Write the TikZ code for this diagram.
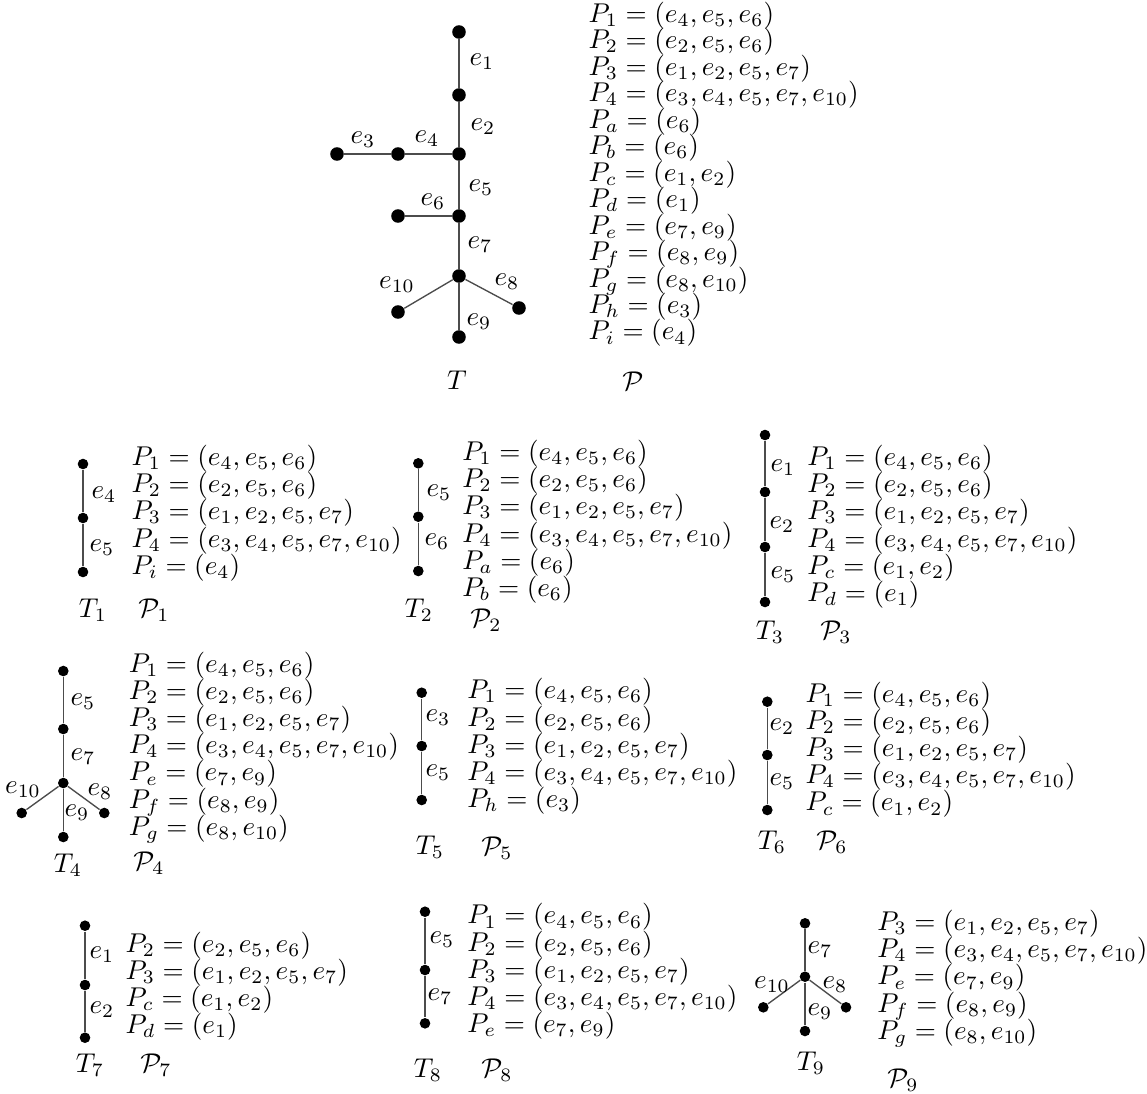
\documentclass[tikz,border=0pt]{standalone}
\tikzset{
  bigdot/.style={circle,fill=black,inner sep=0pt,minimum size=5pt},
  smdot/.style={circle,fill=black,inner sep=0pt,minimum size=3.9pt},
  edge/.style={draw=black!70,line width=0.5pt},
  lab/.style={inner sep=0pt},
  plisttop/.style={align=left,anchor=north west,inner sep=0pt,font=\fontsize{10pt}{9.75pt}\selectfont},
  plist/.style={align=left,anchor=north west,inner sep=0pt,font=\fontsize{10pt}{10pt}\selectfont}
}
\begin{document}
\lineskiplimit=-100pt
\lineskip=0pt
\begin{tikzpicture}[x=0.3683pt,y=-0.3683pt]
\useasboundingbox (0,0) rectangle (1147,1093);
% ---------- main tree T ----------
\node[bigdot] (t1) at (459,32) {};
\node[bigdot] (t2) at (459,95) {};
\node[bigdot] (t3) at (459,154) {};
\node[bigdot] (t4) at (459,216) {};
\node[bigdot] (t5) at (459,276) {};
\node[bigdot] (t6) at (459,337) {};
\node[bigdot] (t3a) at (398,154) {};
\node[bigdot] (t3b) at (337,154) {};
\node[bigdot] (t4a) at (398,216) {};
\node[bigdot] (t5l) at (398,312) {};
\node[bigdot] (t5r) at (519,308) {};
\draw[edge] (t1)--(t2)--(t3)--(t4)--(t5)--(t6);
\draw[edge] (t3)--(t3a)--(t3b);
\draw[edge] (t4)--(t4a);
\draw[edge] (t5)--(t5l);
\draw[edge] (t5)--(t5r);
\node[lab] (te1) at (482,62) {$e_1$};
\node[lab] (te2) at (483,127) {$e_2$};
\node[lab] (te3) at (363,140) {$e_3$};
\node[lab] (te4) at (427,139) {$e_4$};
\node[lab] (te5) at (481,188) {$e_5$};
\node[lab] (te6) at (433,202) {$e_6$};
\node[lab] (te7) at (480,245) {$e_7$};
\node[lab] (te10) at (397,285) {$e_{10}$};
\node[lab] (te8) at (507,282) {$e_8$};
\node[lab] (te9) at (479,322) {$e_9$};
\node[lab] (tT) at (457,380) {$T$};
\node[plisttop] (PT) at (588,1.4) {$P_1=(e_4,e_5,e_6)$\\$P_2=(e_2,e_5,e_6)$\\$P_3=(e_1,e_2,e_5,e_7)$\\$P_4=(e_3,e_4,e_5,e_7,e_{10})$\\$P_a=(e_6)$\\$P_b=(e_6)$\\$P_c=(e_1,e_2)$\\$P_d=(e_1)$\\$P_e=(e_7,e_9)$\\$P_f=(e_8,e_9)$\\$P_g=(e_8,e_{10})$\\$P_h=(e_3)$\\$P_i=(e_4)$};
\node[lab] (tP) at (633,381) {$\mathcal{P}$};
% ---------- T1 ----------
\node[smdot] (a1) at (83,464) {};
\node[smdot] (a2) at (83,518) {};
\node[smdot] (a3) at (83,572) {};
\draw[edge] (a1)--(a2)--(a3);
\node[lab] (ae4) at (104,495) {$e_4$};
\node[lab] (ae5) at (102,548) {$e_5$};
\node[plist] (PA) at (131,444.7) {$P_1=(e_4,e_5,e_6)$\\$P_2=(e_2,e_5,e_6)$\\$P_3=(e_1,e_2,e_5,e_7)$\\$P_4=(e_3,e_4,e_5,e_7,e_{10})$\\$P_i=(e_4)$};
\node[lab] (aT) at (93,610) {$T_1$};
\node[lab] (aP) at (154,610) {$\mathcal{P}_1$};
% ---------- T2 ----------
\node[smdot] (b1) at (418.3,463.3) {};
\node[smdot] (b2) at (418.3,516.7) {};
\node[smdot] (b3) at (418.3,571) {};
\draw[edge] (b1)--(b2)--(b3);
\node[lab] (be5) at (439,493) {$e_5$};
\node[lab] (be6) at (437,542) {$e_6$};
\node[plist] (PB) at (461.7,439.7) {$P_1=(e_4,e_5,e_6)$\\$P_2=(e_2,e_5,e_6)$\\$P_3=(e_1,e_2,e_5,e_7)$\\$P_4=(e_3,e_4,e_5,e_7,e_{10})$\\$P_a=(e_6)$\\$P_b=(e_6)$};
\node[lab] (bT) at (419,610) {$T_2$};
\node[lab] (bP) at (486,620) {$\mathcal{P}_2$};
% ---------- T3 ----------
\node[smdot] (c1) at (765,435) {};
\node[smdot] (c2) at (765,492) {};
\node[smdot] (c3) at (765,547) {};
\node[smdot] (c4) at (765,602) {};
\draw[edge] (c1)--(c2)--(c3)--(c4);
\node[lab] (ce1) at (783,468) {$e_1$};
\node[lab] (ce2) at (782,525) {$e_2$};
\node[lab] (ce5) at (783,575) {$e_5$};
\node[plist] (PC) at (806.7,444.7) {$P_1=(e_4,e_5,e_6)$\\$P_2=(e_2,e_5,e_6)$\\$P_3=(e_1,e_2,e_5,e_7)$\\$P_4=(e_3,e_4,e_5,e_7,e_{10})$\\$P_c=(e_1,e_2)$\\$P_d=(e_1)$};
\node[lab] (cT) at (770,632) {$T_3$};
\node[lab] (cP) at (836,632) {$\mathcal{P}_3$};
% ---------- T4 ----------
\node[smdot] (d1) at (63.3,671) {};
\node[smdot] (d2) at (63.3,729) {};
\node[smdot] (d3) at (63.3,783) {};
\node[smdot] (d4) at (63.3,837) {};
\node[smdot] (dl) at (21.7,813) {};
\node[smdot] (dr) at (104.3,813) {};
\draw[edge] (d1)--(d2)--(d3)--(d4);
\draw[edge] (d3)--(dl);
\draw[edge] (d3)--(dr);
\node[lab] (de5) at (83,702) {$e_5$};
\node[lab] (de7) at (83,757) {$e_7$};
\node[lab] (de10) at (23,790) {$e_{10}$};
\node[lab] (de8) at (100,792) {$e_8$};
\node[lab] (de9) at (77,813) {$e_9$};
\node[plist] (PD) at (128.3,651.4) {$P_1=(e_4,e_5,e_6)$\\$P_2=(e_2,e_5,e_6)$\\$P_3=(e_1,e_2,e_5,e_7)$\\$P_4=(e_3,e_4,e_5,e_7,e_{10})$\\$P_e=(e_7,e_9)$\\$P_f=(e_8,e_9)$\\$P_g=(e_8,e_{10})$};
\node[lab] (dT) at (68,865) {$T_4$};
\node[lab] (dP) at (149,863) {$\mathcal{P}_4$};
% ---------- T5 ----------
\node[smdot] (f1) at (421.7,692.7) {};
\node[smdot] (f2) at (421.7,746) {};
\node[smdot] (f3) at (421.7,800) {};
\draw[edge] (f1)--(f2)--(f3);
\node[lab] (fe3) at (438,718) {$e_3$};
\node[lab] (fe5) at (438,773) {$e_5$};
\node[plist] (PF) at (466.7,678) {$P_1=(e_4,e_5,e_6)$\\$P_2=(e_2,e_5,e_6)$\\$P_3=(e_1,e_2,e_5,e_7)$\\$P_4=(e_3,e_4,e_5,e_7,e_{10})$\\$P_h=(e_3)$};
\node[lab] (fT) at (430,847) {$T_5$};
\node[lab] (fP) at (497,848) {$\mathcal{P}_5$};
% ---------- T6 ----------
\node[smdot] (g1) at (767.3,701.7) {};
\node[smdot] (g2) at (767.3,755) {};
\node[smdot] (g3) at (767.3,810) {};
\draw[edge] (g1)--(g2)--(g3);
\node[lab] (ge2) at (782,727) {$e_2$};
\node[lab] (ge5) at (782,782) {$e_5$};
\node[plist] (PG) at (805,681.4) {$P_1=(e_4,e_5,e_6)$\\$P_2=(e_2,e_5,e_6)$\\$P_3=(e_1,e_2,e_5,e_7)$\\$P_4=(e_3,e_4,e_5,e_7,e_{10})$\\$P_c=(e_1,e_2)$};
\node[lab] (gT) at (772,842) {$T_6$};
\node[lab] (gP) at (832,842) {$\mathcal{P}_6$};
% ---------- T7 ----------
\node[smdot] (h1) at (85,925.7) {};
\node[smdot] (h2) at (85,985) {};
\node[smdot] (h3) at (85,1037.7) {};
\draw[edge] (h1)--(h2)--(h3);
\node[lab] (he1) at (102,955) {$e_1$};
\node[lab] (he2) at (102,1010) {$e_2$};
\node[plist] (PH) at (125,931.4) {$P_2=(e_2,e_5,e_6)$\\$P_3=(e_1,e_2,e_5,e_7)$\\$P_c=(e_1,e_2)$\\$P_d=(e_1)$};
\node[lab] (hT) at (90,1065) {$T_7$};
\node[lab] (hP) at (156,1065) {$\mathcal{P}_7$};
% ---------- T8 ----------
\node[smdot] (k1) at (425,911.7) {};
\node[smdot] (k2) at (425,970) {};
\node[smdot] (k3) at (425,1023.3) {};
\draw[edge] (k1)--(k2)--(k3);
\node[lab] (ke5) at (442,940) {$e_5$};
\node[lab] (ke7) at (440,997) {$e_7$};
\node[plist] (PK) at (466.7,903) {$P_1=(e_4,e_5,e_6)$\\$P_2=(e_2,e_5,e_6)$\\$P_3=(e_1,e_2,e_5,e_7)$\\$P_4=(e_3,e_4,e_5,e_7,e_{10})$\\$P_e=(e_7,e_9)$};
\node[lab] (kT) at (428,1070) {$T_8$};
\node[lab] (kP) at (497,1070) {$\mathcal{P}_8$};
% ---------- T9 ----------
\node[smdot] (m1) at (805,923.3) {};
\node[smdot] (m2) at (805,976.7) {};
\node[smdot] (m3) at (805,1031) {};
\node[smdot] (ml) at (763.3,1007.3) {};
\node[smdot] (mr) at (846,1007.3) {};
\draw[edge] (m1)--(m2)--(m3);
\draw[edge] (m2)--(ml);
\draw[edge] (m2)--(mr);
\node[lab] (me7) at (820,950) {$e_7$};
\node[lab] (me8) at (835,985) {$e_8$};
\node[lab] (me10) at (772,985) {$e_{10}$};
\node[lab] (me9) at (820,1012) {$e_9$};
\node[plist] (PM) at (876.7,909.7) {$P_3=(e_1,e_2,e_5,e_7)$\\$P_4=(e_3,e_4,e_5,e_7,e_{10})$\\$P_e=(e_7,e_9)$\\$P_f=(e_8,e_9)$\\$P_g=(e_8,e_{10})$};
\node[lab] (mT) at (811,1063) {$T_9$};
\node[lab] (mP) at (903,1080) {$\mathcal{P}_9$};
\end{tikzpicture}
\end{document}
